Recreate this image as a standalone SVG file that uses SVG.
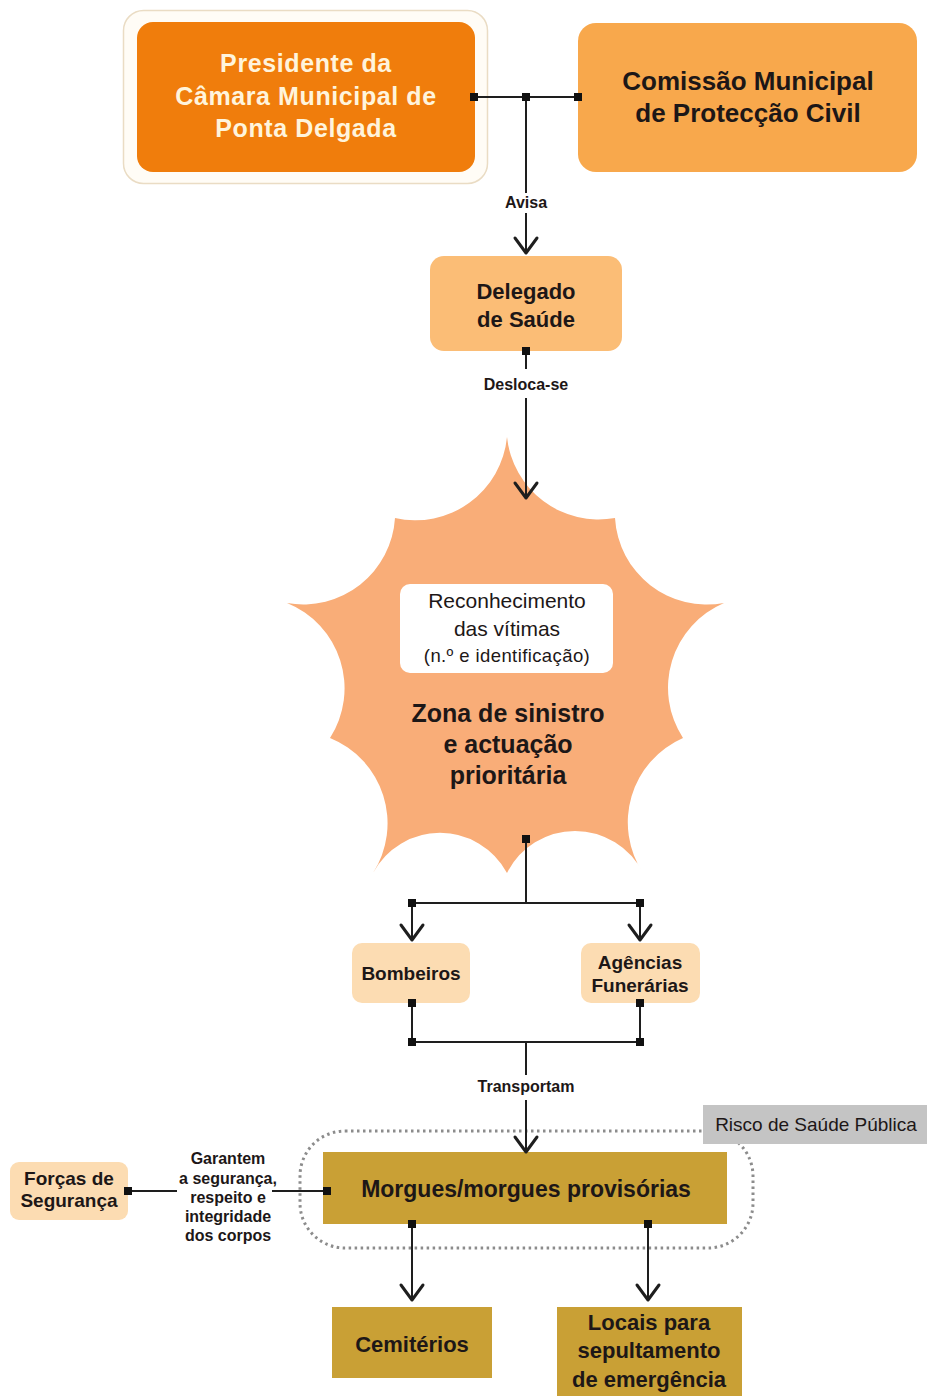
<svg xmlns="http://www.w3.org/2000/svg" width="927" height="1396" viewBox="0 0 927 1396">
<defs>
<style>
text{font-family:"Liberation Sans",Arial,Helvetica,sans-serif;text-anchor:middle;fill:#1d1717}
.b{font-weight:bold}
.w{fill:#fff4dc}
.ln{stroke:#1e1e1e;stroke-width:2;fill:none}
.ar{marker-end:url(#arr)}
.pale{fill:#fcdcb2}
.gold{fill:#c9a035}
.lbl{font-weight:bold;font-size:16px}
</style>
<marker id="arr" markerUnits="userSpaceOnUse" viewBox="-20 -15 24 30" markerWidth="24" markerHeight="30" refX="0" refY="0" orient="auto" overflow="visible">
<path d="M-15,-11 L0,0 L-15,11" fill="none" stroke="#1e1e1e" stroke-width="3" stroke-linejoin="round" stroke-linecap="round"/>
</marker>
<rect id="sq" x="-4" y="-4" width="8" height="8" fill="#111"/>
</defs>
<rect width="927" height="1396" fill="#fff"/>

<g id="presidente">
<rect x="123.5" y="10.5" width="364" height="173" rx="20" fill="#fffcf6" stroke="#eadcc4" stroke-width="1.5"/>
<rect x="137" y="22" width="338" height="150" rx="16" fill="#f07d0c"/>
<text class="b w" font-size="25" letter-spacing="0.6"><tspan x="306" y="72">Presidente da</tspan><tspan x="306" y="105">Câmara Municipal de</tspan><tspan x="306" y="137">Ponta Delgada</tspan></text>
</g>

<g id="comissao">
<rect x="578" y="23" width="339" height="149" rx="18" fill="#f8a84c"/>
<text class="b" font-size="26"><tspan x="748" y="90">Comissão Municipal</tspan><tspan x="748" y="122">de Protecção Civil</tspan></text>
</g>

<g id="delegado">
<rect x="430" y="256" width="192" height="95" rx="14" fill="#fbbd76"/>
<text class="b" font-size="22"><tspan x="526" y="299">Delegado</tspan><tspan x="526" y="327">de Saúde</tspan></text>
</g>

<g id="zona">
<path fill="#f9ad78" d="M507,437 A92,92 0 0 0 615,518 A92,92 0 0 0 724,603 A92,92 0 0 0 683,738 A92,92 0 0 0 643,873 A76,76 0 0 0 507,873 A76,76 0 0 0 373,873 A92,92 0 0 0 330,738 A92,92 0 0 0 287,603 A92,92 0 0 0 395,518 A92,92 0 0 0 507,437 Z"/>
<rect x="400" y="584" width="213" height="89" rx="10" fill="#fff"/>
<text font-size="21"><tspan x="507" y="608">Reconhecimento</tspan><tspan x="507" y="636">das vítimas</tspan></text>
<text font-size="18.5" letter-spacing="0.4" x="507" y="662">(n.º e identificação)</text>
<text class="b" font-size="25"><tspan x="508" y="722">Zona de sinistro</tspan><tspan x="508" y="753">e actuação</tspan><tspan x="508" y="784">prioritária</tspan></text>
</g>

<g id="bombeiros">
<rect class="pale" x="352" y="943" width="118" height="60" rx="10"/>
<text class="b" font-size="19" x="411" y="980">Bombeiros</text>
</g>

<g id="agencias">
<rect class="pale" x="581" y="943" width="119" height="60" rx="10"/>
<text class="b" font-size="19"><tspan x="640" y="969">Agências</tspan><tspan x="640" y="992">Funerárias</tspan></text>
</g>

<g id="risco-zona">
<rect x="300" y="1131" width="453" height="117" rx="45" fill="none" stroke="#8c8c8c" stroke-width="3" stroke-dasharray="2.5 3.5"/>
</g>

<g id="morgues">
<rect class="gold" x="323" y="1152" width="404" height="72"/>
<text class="b" font-size="23" x="526" y="1197">Morgues/morgues provisórias</text>
</g>

<g id="risco">
<rect x="703" y="1105" width="224" height="39" fill="#c4c4c4"/>
<text font-size="19" x="816" y="1131">Risco de Saúde Pública</text>
</g>

<g id="forcas">
<rect class="pale" x="10" y="1162" width="118" height="58" rx="9"/>
<text class="b" font-size="19"><tspan x="69" y="1185">Forças de</tspan><tspan x="69" y="1207">Segurança</tspan></text>
</g>

<g id="cemiterios">
<rect class="gold" x="332" y="1307" width="160" height="71"/>
<text class="b" font-size="22" x="412" y="1352">Cemitérios</text>
</g>

<g id="locais">
<rect class="gold" x="557" y="1307" width="185" height="95"/>
<text class="b" font-size="22"><tspan x="649" y="1330">Locais para</tspan><tspan x="649" y="1358">sepultamento</tspan><tspan x="649" y="1387">de emergência</tspan></text>
</g>

<g id="connectors">
<path class="ln" d="M474,97 H578"/>
<path class="ln" d="M526,97 V193"/>
<path class="ln ar" d="M526,213 V253"/>
<path class="ln" d="M526,351 V369"/>
<path class="ln ar" d="M526,398 V498"/>
<path class="ln" d="M526,839 V903 M412,903 H640"/>
<path class="ln ar" d="M412,903 V940"/>
<path class="ln ar" d="M640,903 V940"/>
<path class="ln" d="M412,1003 V1042 H640 V1003 M526,1042 V1075"/>
<path class="ln ar" d="M526,1100 V1152"/>
<path class="ln" d="M128,1191 H177 M272,1191 H327"/>
<path class="ln ar" d="M412,1224 V1300"/>
<path class="ln ar" d="M648,1224 V1300"/>
<use href="#sq" x="474" y="97"/>
<use href="#sq" x="526" y="97"/>
<use href="#sq" x="578" y="97"/>
<use href="#sq" x="526" y="351"/>
<use href="#sq" x="526" y="839"/>
<use href="#sq" x="412" y="903"/>
<use href="#sq" x="640" y="903"/>
<use href="#sq" x="412" y="1003"/>
<use href="#sq" x="640" y="1003"/>
<use href="#sq" x="412" y="1042"/>
<use href="#sq" x="640" y="1042"/>
<use href="#sq" x="128" y="1191"/>
<use href="#sq" x="327" y="1191"/>
<use href="#sq" x="412" y="1224"/>
<use href="#sq" x="648" y="1224"/>
<text class="lbl" x="526" y="208">Avisa</text>
<text class="lbl" x="526" y="390">Desloca-se</text>
<text class="lbl" x="526" y="1092">Transportam</text>
<text class="lbl"><tspan x="228" y="1164">Garantem</tspan><tspan x="228" y="1184">a segurança,</tspan><tspan x="228" y="1203">respeito e</tspan><tspan x="228" y="1222">integridade</tspan><tspan x="228" y="1241">dos corpos</tspan></text>
</g>
</svg>
